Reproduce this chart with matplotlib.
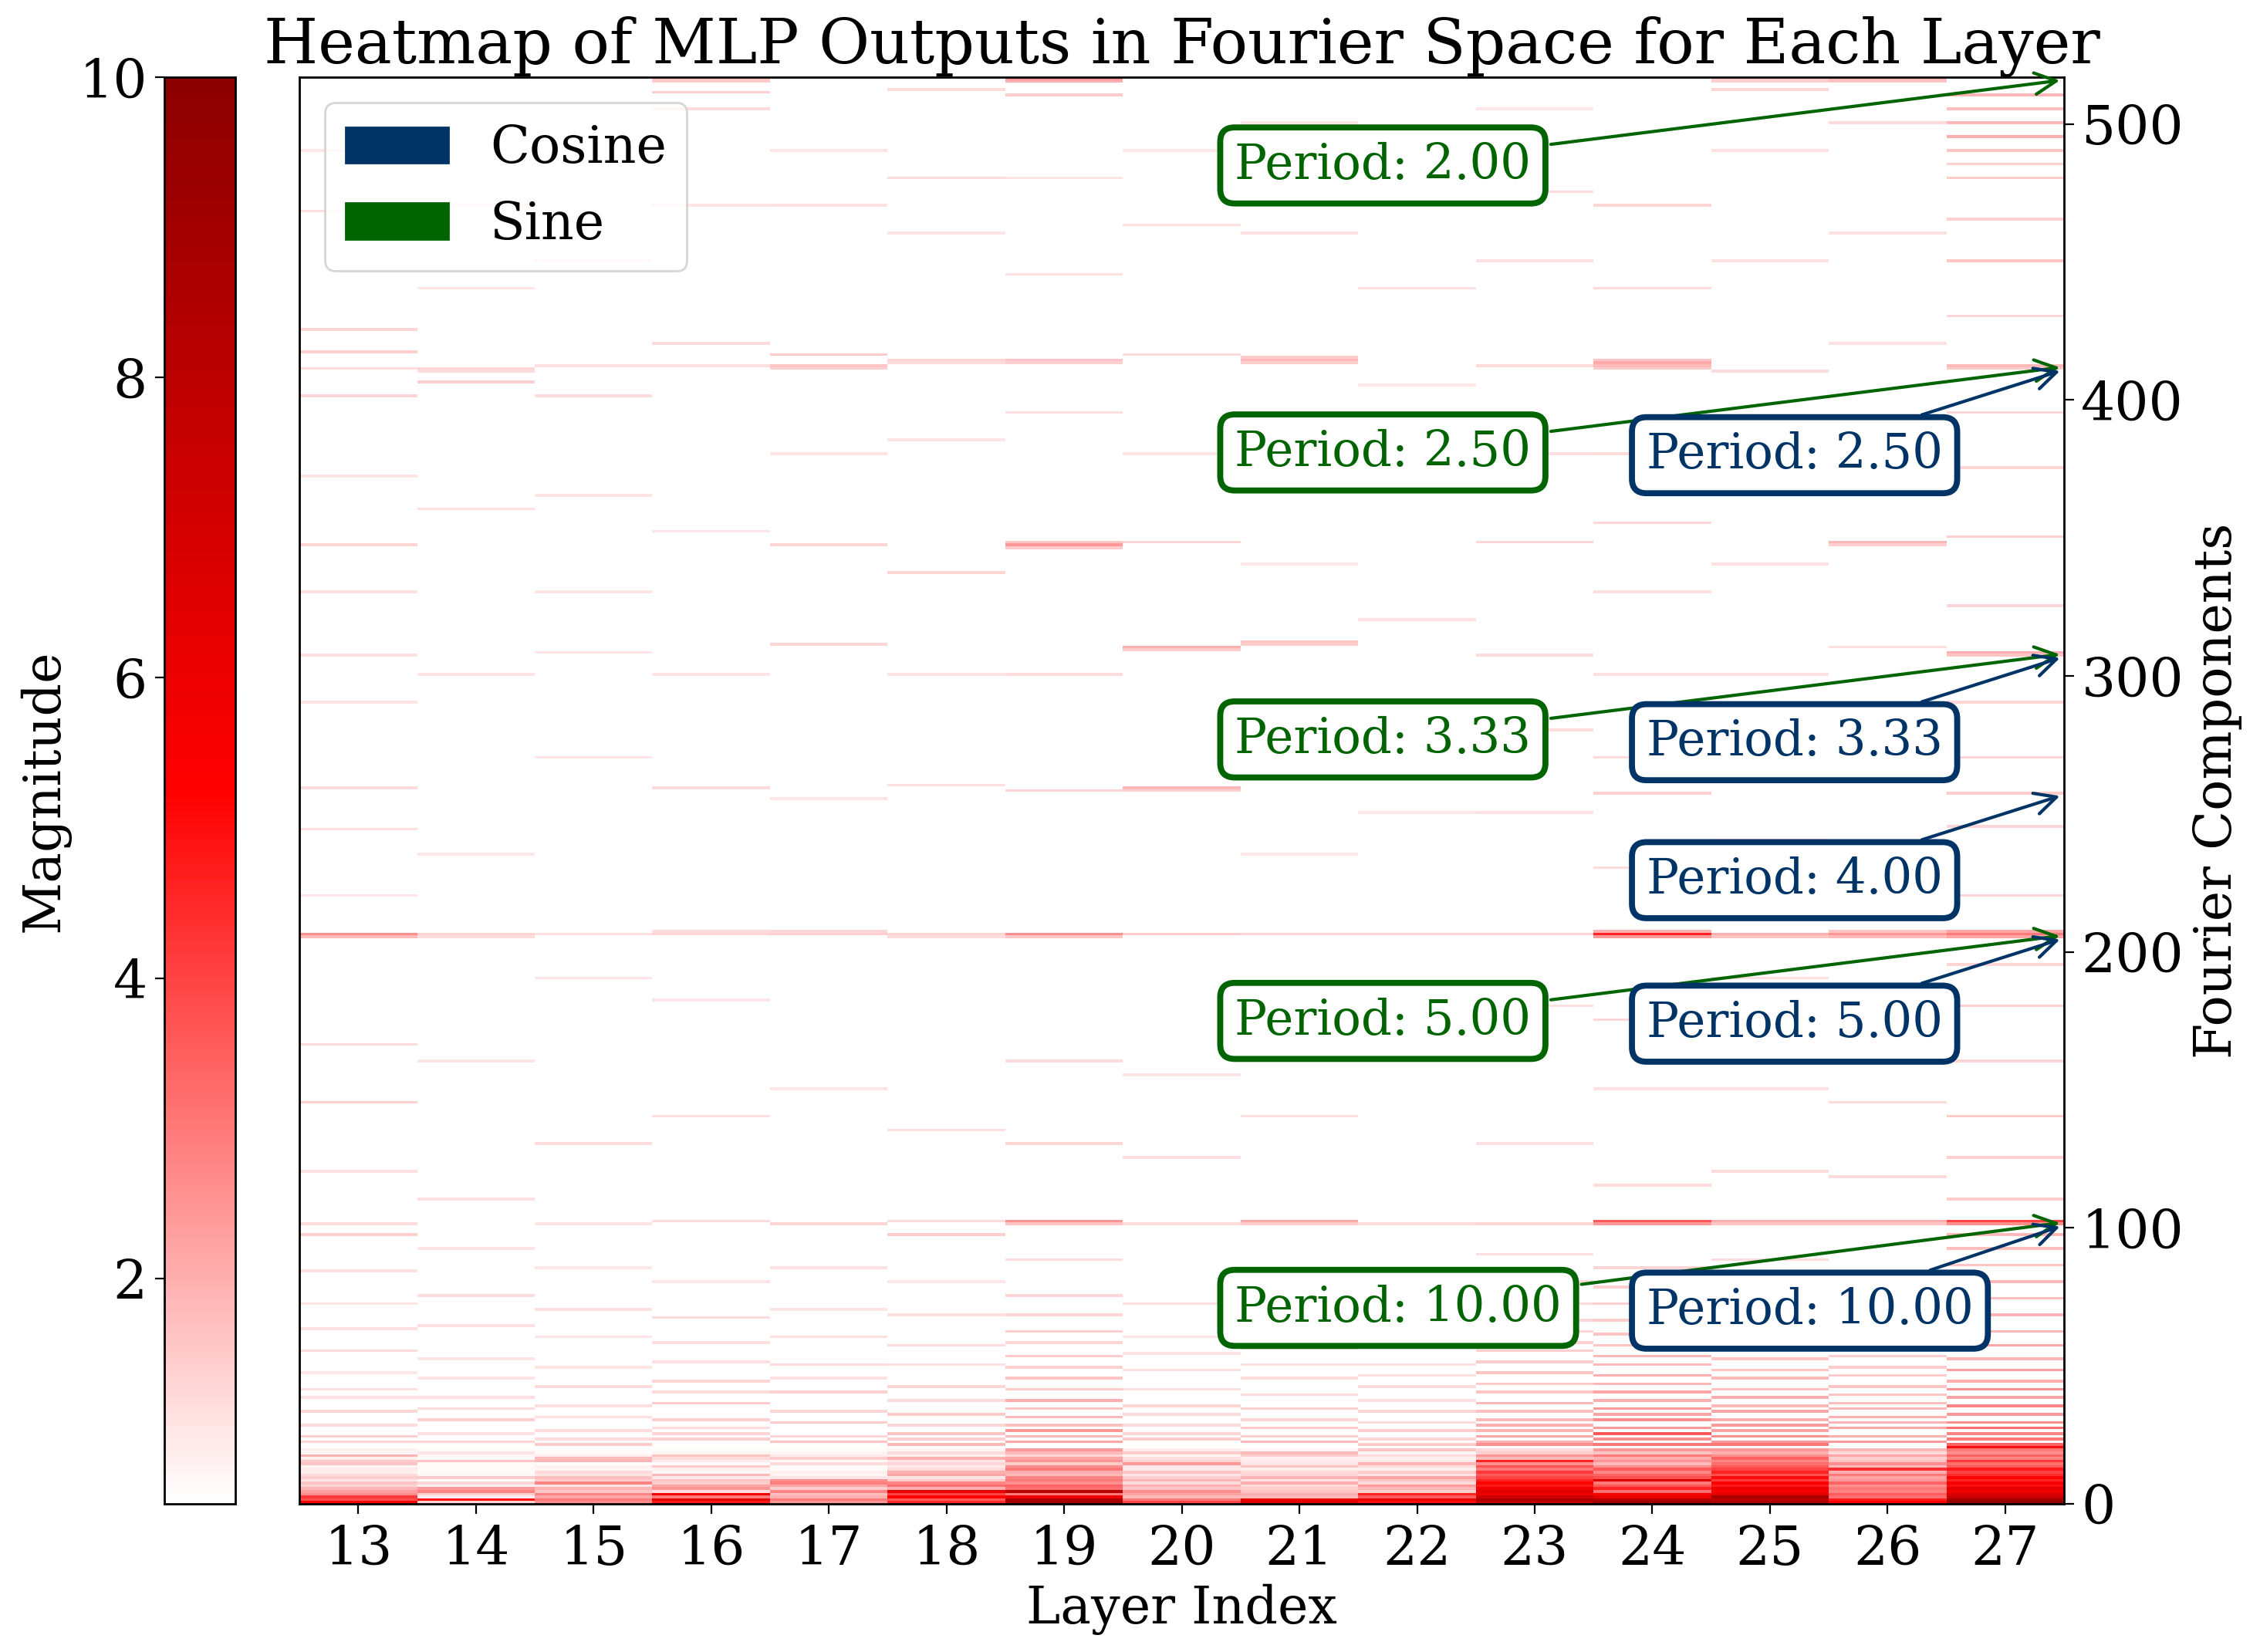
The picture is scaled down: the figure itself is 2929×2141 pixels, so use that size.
import numpy as np
import matplotlib.pyplot as plt
from matplotlib.colors import LinearSegmentedColormap
from matplotlib.patches import Patch

plt.rcParams['font.family'] = 'DejaVu Serif'
plt.rcParams['font.size'] = 24
plt.rcParams['xtick.labelsize'] = 25
plt.rcParams['ytick.labelsize'] = 25
plt.rcParams['xtick.major.size'] = 4.5
plt.rcParams['ytick.major.size'] = 4.5
plt.rcParams['xtick.major.pad'] = 5
plt.rcParams['axes.linewidth'] = 1.0

# layers shown and number of Fourier components (rows)
layers = list(range(13, 28))
n_components = 517

# magnitudes of the lowest components (0..19), one list per layer
low_band = [
    [5.5, 3.8, 4.2, 2.6, 2.3, 1.9, 1.3, 1.6, 1.0, 1.4, 1.2, 0.8, 0.9, 0.7, 1.6, 1.5, 0.8, 1.9, 0.7, 0.8],
    [1.3, 5.0, 0.9, 1.4, 2.8, 2.4, 0.8, 1.3, 0.6, 1.5, 0.7, 0.6, 0.6, 0.6, 0.6, 1.6, 0.6, 0.7, 1.0, 0.6],
    [2.6, 3.0, 2.2, 2.8, 1.6, 1.9, 1.0, 2.8, 1.5, 1.7, 1.0, 1.2, 0.7, 0.8, 0.6, 1.9, 1.8, 0.8, 0.6, 0.6],
    [4.8, 6.4, 3.0, 5.8, 1.2, 2.5, 2.2, 1.4, 1.6, 0.9, 1.8, 0.7, 0.8, 1.5, 0.6, 0.9, 1.2, 1.6, 0.7, 0.6],
    [2.4, 3.0, 2.0, 1.7, 2.8, 1.5, 2.2, 2.9, 2.6, 1.0, 0.7, 0.8, 0.6, 0.6, 1.2, 0.6, 1.5, 0.9, 0.7, 0.6],
    [4.5, 3.6, 5.2, 4.0, 6.2, 2.0, 3.2, 2.8, 1.5, 1.0, 2.2, 2.0, 1.2, 0.9, 1.3, 1.0, 2.0, 0.8, 1.2, 0.7],
    [9.0, 8.6, 6.0, 3.0, 8.2, 3.2, 3.4, 2.6, 3.0, 2.8, 1.8, 2.0, 3.0, 2.6, 1.5, 2.5, 2.2, 1.3, 1.8, 2.4],
    [4.0, 3.0, 1.8, 2.2, 2.6, 1.6, 2.0, 1.2, 1.9, 1.4, 1.0, 1.6, 0.9, 1.0, 2.4, 1.3, 1.1, 0.7, 1.5, 0.9],
    [6.6, 6.2, 1.8, 2.0, 1.6, 1.5, 1.2, 2.0, 1.0, 1.9, 1.3, 1.2, 0.8, 1.6, 1.0, 0.9, 0.8, 1.4, 1.8, 0.7],
    [5.0, 6.0, 3.6, 4.6, 1.4, 1.8, 2.4, 1.2, 1.6, 2.2, 1.0, 1.5, 0.8, 1.2, 1.9, 0.9, 0.8, 1.2, 0.7, 1.6],
    [7.6, 8.8, 7.2, 6.0, 6.4, 5.8, 4.8, 5.2, 4.6, 4.0, 3.6, 4.2, 3.0, 3.8, 2.6, 4.6, 1.8, 2.5, 1.4, 1.2],
    [9.2, 8.2, 6.2, 5.6, 3.2, 4.6, 3.6, 3.0, 6.6, 3.8, 3.4, 2.8, 3.6, 2.6, 1.8, 2.5, 2.0, 3.0, 1.6, 2.4],
    [8.6, 8.0, 8.8, 6.4, 5.6, 6.0, 4.8, 5.4, 4.2, 5.0, 3.8, 4.6, 4.0, 3.6, 3.2, 2.8, 3.4, 2.6, 2.0, 2.4],
    [5.4, 4.8, 3.2, 3.6, 2.8, 3.0, 2.6, 3.4, 2.4, 2.2, 3.0, 2.0, 4.4, 1.8, 2.6, 1.6, 1.4, 2.2, 1.2, 1.8],
    [9.6, 9.0, 7.4, 6.8, 5.8, 6.4, 5.0, 5.6, 4.6, 5.2, 4.4, 4.0, 4.8, 3.6, 3.2, 4.2, 2.8, 3.4, 2.6, 3.0],
]

# scattered stripes above the low band: component indices and magnitudes per layer
stripe_comps = [
    [22, 24, 28, 33, 38, 41, 47, 55, 63, 72, 84, 97, 101, 120, 145, 166, 205, 206, 220, 244, 259, 290, 307,
     330, 347, 372, 401, 411, 417, 425, 468, 490],
    [22, 25, 30, 34, 38, 45, 52, 64, 75, 92, 110, 160, 205, 206, 235, 300, 360, 406, 410, 411, 440, 470],
    [21, 23, 26, 31, 35, 42, 49, 60, 70, 85, 101, 130, 190, 206, 270, 308, 330, 365, 401, 412, 450],
    [23, 25, 27, 30, 36, 40, 44, 51, 58, 67, 80, 102, 140, 182, 206, 207, 259, 300, 352, 412, 420, 470,
     505, 511, 515, 516],
    [22, 24, 29, 33, 40, 45, 50, 60, 70, 85, 101, 150, 206, 207, 255, 311, 347, 380, 411, 412, 416, 470,
     490],
    [21, 23, 25, 28, 32, 37, 42, 50, 57, 68, 80, 97, 102, 135, 205, 206, 260, 300, 337, 385, 413, 414, 460,
     480, 512],
    [22, 24, 26, 28, 31, 34, 37, 41, 45, 49, 53, 58, 62, 68, 75, 88, 101, 102, 130, 160, 205, 206, 258, 300,
     346, 347, 348, 395, 413, 414, 445, 480, 510, 515, 516],
    [23, 25, 28, 32, 35, 41, 48, 54, 60, 72, 101, 125, 155, 206, 258, 259, 309, 310, 348, 380, 416, 463,
     490],
    [22, 24, 27, 30, 34, 39, 45, 50, 56, 65, 78, 101, 102, 140, 206, 235, 290, 311, 312, 340, 413, 414,
     415, 460, 500],
    [21, 23, 26, 29, 33, 37, 42, 46, 50, 58, 70, 101, 170, 206, 250, 320, 370, 405, 440, 495],
    [21, 22, 24, 26, 28, 30, 33, 36, 40, 43, 47, 51, 55, 58, 62, 66, 72, 80, 90, 101, 130, 180, 206, 250,
     280, 307, 348, 380, 412, 450, 475, 505],
    [21, 23, 25, 27, 30, 32, 34, 37, 40, 43, 46, 50, 53, 57, 61, 66, 72, 78, 85, 101, 102, 115, 150, 175,
     205, 206, 207, 230, 257, 270, 300, 330, 355, 380, 411, 412, 413, 414, 440, 470],
    [21, 22, 24, 26, 28, 30, 33, 35, 38, 41, 45, 48, 52, 56, 60, 65, 70, 79, 88, 101, 102, 120, 150, 190,
     205, 206, 240, 265, 300, 340, 390, 410, 450, 490, 512, 515, 516],
    [22, 24, 27, 29, 31, 34, 36, 39, 42, 46, 49, 53, 56, 60, 65, 72, 80, 101, 102, 118, 145, 170, 205,
     206, 207, 230, 280, 310, 347, 348, 380, 420, 460, 500, 515, 516],
    [20, 21, 23, 25, 27, 29, 32, 35, 38, 41, 44, 48, 52, 57, 62, 68, 74, 80, 86, 92, 97, 101, 102, 110,
     125, 140, 160, 180, 195, 205, 206, 207, 220, 245, 257, 270, 290, 307, 308, 325, 350, 375, 395, 411,
     412, 430, 450, 465, 480, 485, 490, 495, 500, 505, 510],
]
stripe_mags = [
    [1.3, 1.4, 1.2, 1.3, 1.1, 1.1, 1.0, 1.2, 1.1, 1.0, 1.1, 1.4, 1.2, 1.1, 1.4, 1.2, 1.8, 2.6, 1.0, 1.1, 1.2,
     1.0, 1.1, 1.1, 1.3, 1.0, 1.3, 1.2, 1.4, 1.3, 1.1, 1.0],
    [1.3, 1.1, 1.4, 1.2, 1.1, 1.0, 1.0, 1.1, 1.2, 1.0, 1.1, 1.0, 1.2, 1.3, 1.0, 1.0, 1.1, 1.4, 1.2, 1.3, 1.0,
     1.0],
    [1.5, 1.2, 1.2, 1.1, 1.1, 1.2, 1.0, 1.0, 1.1, 1.0, 1.0, 1.2, 1.0, 1.1, 1.0, 1.0, 1.0, 1.0, 1.2, 1.1, 1.0],
    [1.4, 1.3, 1.2, 1.4, 1.5, 1.2, 1.3, 1.1, 1.1, 1.2, 1.0, 1.2, 1.1, 1.0, 1.3, 1.2, 1.2, 1.0, 1.0, 1.1, 1.2,
     1.0, 1.2, 1.4, 1.5, 1.6],
    [1.6, 1.3, 1.5, 1.3, 1.4, 1.1, 1.2, 1.1, 1.0, 1.1, 1.3, 1.0, 1.4, 1.3, 1.0, 1.3, 1.3, 1.0, 1.4, 1.6, 1.5,
     1.1, 1.0],
    [1.8, 1.4, 1.6, 1.3, 1.5, 1.2, 1.3, 1.1, 1.2, 1.1, 1.0, 1.5, 1.2, 1.1, 1.2, 1.3, 1.1, 1.0, 1.3, 1.0, 1.2,
     1.3, 1.0, 1.2, 1.2],
    [2.2, 1.8, 2.4, 1.7, 1.8, 1.6, 2.0, 1.5, 1.6, 1.4, 1.5, 1.3, 1.4, 1.3, 1.3, 1.2, 1.6, 2.5, 1.3, 1.2, 1.6,
     2.6, 1.3, 1.2, 1.5, 2.4, 1.6, 1.1, 1.4, 1.6, 1.1, 1.0, 1.5, 2.0, 2.4],
    [1.5, 1.3, 1.2, 1.2, 1.3, 1.1, 1.1, 1.0, 1.0, 1.1, 1.2, 1.1, 1.0, 1.5, 1.4, 1.8, 1.5, 2.0, 1.3, 1.0, 1.2,
     1.1, 1.0],
    [1.8, 1.4, 1.5, 1.3, 1.4, 1.2, 1.2, 1.1, 1.1, 1.1, 1.0, 1.5, 2.1, 1.1, 1.3, 1.0, 1.1, 1.4, 1.6, 1.0, 1.4,
     1.8, 1.5, 1.1, 1.0],
    [1.5, 1.3, 1.4, 1.2, 1.3, 1.1, 1.2, 1.1, 1.1, 1.0, 1.0, 1.2, 1.0, 1.3, 1.0, 1.1, 1.0, 1.0, 1.1, 1.0],
    [2.6, 2.0, 2.2, 1.9, 2.0, 1.8, 1.7, 1.8, 1.6, 1.5, 1.6, 1.5, 1.4, 1.4, 1.3, 1.3, 1.2, 1.2, 1.1, 1.3, 1.1,
     1.1, 1.3, 1.1, 1.2, 1.2, 1.3, 1.1, 1.2, 1.1, 1.2, 1.0],
    [3.0, 2.6, 3.6, 2.4, 2.6, 2.2, 2.4, 2.0, 2.2, 1.8, 2.0, 1.8, 1.8, 1.6, 1.6, 1.5, 1.4, 1.4, 1.3, 2.4, 3.6,
     1.2, 1.1, 1.3, 2.4, 4.6, 2.0, 1.2, 1.4, 1.2, 1.1, 1.1, 1.3, 1.2, 1.5, 1.8, 2.1, 1.6, 1.2, 1.3],
    [3.0, 2.4, 2.6, 2.2, 2.4, 2.0, 2.2, 1.8, 2.0, 1.7, 1.8, 1.6, 1.6, 1.5, 1.5, 1.4, 1.3, 1.3, 1.2, 1.6, 2.0,
     1.2, 1.1, 1.1, 1.6, 2.0, 1.1, 1.2, 1.1, 1.1, 1.0, 1.2, 1.1, 1.1, 1.3, 1.4, 1.5],
    [2.4, 2.0, 2.2, 1.9, 2.0, 1.8, 1.7, 1.6, 1.6, 1.5, 1.5, 1.4, 1.4, 1.3, 1.3, 1.2, 1.2, 1.6, 2.0, 1.2, 1.2,
     1.1, 1.8, 2.5, 1.6, 1.1, 1.1, 1.1, 1.4, 1.8, 1.1, 1.1, 1.1, 1.2, 1.6, 1.8],
    [5.0, 3.4, 3.0, 2.8, 3.2, 2.6, 2.4, 2.8, 2.2, 2.6, 2.0, 2.3, 1.9, 2.1, 1.8, 1.9, 1.7, 1.8, 1.6, 1.7, 1.8,
     2.6, 4.0, 1.5, 1.4, 1.5, 1.3, 1.4, 1.3, 2.2, 3.0, 2.2, 1.3, 1.3, 1.5, 1.3, 1.3, 1.6, 2.0, 1.3, 1.4, 1.3,
     1.3, 1.5, 1.8, 1.3, 1.6, 1.4, 1.5, 1.4, 1.6, 2.0, 1.8, 1.7, 1.9],
]

# annotated frequencies
sine_periods = [2.00, 2.50, 3.33, 5.00, 10.00]
sine_comps = [516, 412, 308, 206, 102]
cos_periods = [2.50, 3.33, 4.00, 5.00, 10.00]
cos_comps = [411, 307, 257, 205, 101]

# assemble the magnitude matrix (components x layers)
mag = np.full((n_components, len(layers)), 0.5)
for j in range(len(layers)):
    mag[:len(low_band[j]), j] = low_band[j]
    mag[stripe_comps[j], j] = stripe_mags[j]

cmap = LinearSegmentedColormap.from_list('wr', ['white', 'red', 'darkred'])
cos_color = '#003366'
sin_color = '#006400'

fig = plt.figure(figsize=(14.645, 10.705), dpi=200)
ax = fig.add_axes([0.1325, 0.0897, 0.7808, 0.8636])
cax = fig.add_axes([0.0727, 0.0897, 0.0313, 0.8636])

x_edges = np.arange(len(layers) + 1) + layers[0] - 0.5
y_edges = np.arange(n_components + 1)
mesh = ax.pcolormesh(x_edges, y_edges, mag, cmap=cmap, vmin=0.5, vmax=10)

ax.set_xticks(layers)
ax.set_xlim(x_edges[0], x_edges[-1])
ax.set_ylim(0, n_components)
ax.yaxis.tick_right()
ax.yaxis.set_label_position('right')
ax.set_xlabel('Layer Index', labelpad=4)
ax.set_ylabel('Fourier Components')
ax.set_title('Heatmap of MLP Outputs in Fourier Space for Each Layer', fontsize=29, pad=3)

cb = fig.colorbar(mesh, cax=cax)
cax.yaxis.set_ticks_position('left')
cax.yaxis.set_label_position('left')
cb.set_label('Magnitude')

for p, c in zip(sine_periods, sine_comps):
    ax.annotate(f'Period: {p:.2f}', xy=(x_edges[-1], c), xytext=(20.45, c - 31),
                color=sin_color, ha='left', va='center', fontsize=22.5,
                bbox=dict(boxstyle='round,pad=0.3', fc='white', ec=sin_color, lw=2.8),
                arrowprops=dict(arrowstyle='->', color=sin_color, lw=1.5, mutation_scale=25))
for p, c in zip(cos_periods, cos_comps):
    ax.annotate(f'Period: {p:.2f}', xy=(x_edges[-1], c), xytext=(23.95, c - 31),
                color=cos_color, ha='left', va='center', fontsize=22.5,
                bbox=dict(boxstyle='round,pad=0.3', fc='white', ec=cos_color, lw=2.8),
                arrowprops=dict(arrowstyle='->', color=cos_color, lw=1.5, mutation_scale=25))

handles = [Patch(color=cos_color, label='Cosine'), Patch(color=sin_color, label='Sine')]
ax.legend(handles=handles, loc='upper left', fontsize=24)

fig.savefig('out.png', dpi=200)
